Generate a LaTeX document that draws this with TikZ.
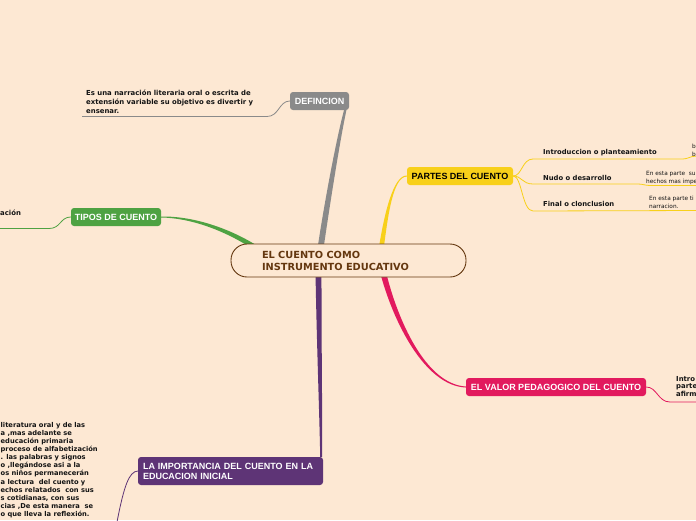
\documentclass[tikz,border=0pt]{standalone}
\usepackage{fontspec}
\setmainfont{DejaVu Sans}
\newfontfamily\hfont{Liberation Sans}
\usetikzlibrary{calc,backgrounds}
\definecolor{bg}{RGB}{253,232,211}
\definecolor{cgray}{RGB}{138,138,138}
\definecolor{cgreen}{RGB}{78,162,66}
\definecolor{cyellow}{RGB}{248,208,26}
\definecolor{ccrim}{RGB}{226,26,94}
\definecolor{cpurp}{RGB}{94,52,118}
\definecolor{cbrown}{RGB}{100,55,15}
\definecolor{ctext}{RGB}{20,20,20}
\begin{document}
\begin{tikzpicture}[x=1pt,y=-1pt,
  topic/.style={rounded corners=3pt, inner sep=0pt, minimum height=18pt,
    font=\hfont\bfseries\fontsize{9}{10}\selectfont, text=white},
  central/.style={draw=cbrown, line width=0.9pt, fill=bg, rounded corners=16pt,
    minimum width=235pt, minimum height=33pt, text width=173pt, inner xsep=31pt,
    inner ysep=0pt, align=left, font=\bfseries\fontsize{9.8}{12}\selectfont, text=cbrown},
  desc/.style={anchor=north west, inner sep=0pt, align=left,
    font=\bfseries\fontsize{6.9}{9}\selectfont, text=ctext},
  sub/.style={anchor=base west, inner sep=0pt, font=\bfseries\fontsize{6.8}{8}\selectfont, text=ctext},
  small/.style={anchor=north west, inner sep=0pt, align=left,
    font=\fontsize{5.8}{8}\selectfont, text=ctext},
  thin/.style={line width=0.8pt}]
\useasboundingbox (0,0) rectangle (696,520);
\clip (0,0) rectangle (696,520);

% nodes
\node[central] (c) at (348.5,260.5) {EL CUENTO COMO\\INSTRUMENTO EDUCATIVO};
\node[topic, fill=cgray, minimum width=59pt] (def) at (319.5,101) {DEFINCION};
\node[topic, fill=cgreen, minimum width=90pt] (tip) at (116,217) {TIPOS DE CUENTO};
\node[topic, fill=cyellow, minimum width=106pt, text=black] (par) at (460,176) {PARTES DEL CUENTO};
\node[topic, fill=ccrim, minimum width=180pt] (val) at (556,387) {EL VALOR PEDAGOGICO DEL CUENTO};
\node[topic, fill=cpurp, minimum width=185pt, minimum height=28pt, text width=175pt,
  inner xsep=5pt, align=left] (imp) at (230.5,471) {LA IMPORTANCIA DEL CUENTO EN LA\\EDUCACION INICIAL};

% texts
\node[desc] (dd) at (86,90) {Es una narración literaria oral o escrita de\\extensión variable su objetivo es divertir y\\ensenar.};
\node[desc] (td) at (0,209.8) {ación};
\node[sub] (s1) at (543,154) {Introduccion o planteamiento};
\node[sub] (s2) at (543,180) {Nudo o desarrollo};
\node[sub] (s3) at (543,206) {Final o clonclusion};
\node[small] (rb) at (692,143.6) {b\\b};
\node[small] (rn) at (646,170.6) {En esta parte~ su\\hechos mas impe};
\node[small] (rf) at (649,195.6) {En esta parte ti\\narracion.};
\node[desc, font=\bfseries\fontsize{6.9}{7.9}\selectfont] (vd) at (676,375.8) {Intro\\parte\\afirm};
\node[desc, font=\bfseries\fontsize{6.7}{8.05}\selectfont] (pd) at (0.5,422.4) {literatura oral y de las\\a ,mas adelante se\\educación primaria\\proceso de alfabetización\\. las palabras y signos\\o ,llegándose asi a la\\os niños permanecerán\\a lectura~ del cuento y\\echos relatados~ con sus\\s cotidianas, con sus\\cias ,De esta manera~ se\\o que lleva la reflexión.};

% free ends
\coordinate (gS) at (320,252);
\coordinate (gE) at ($(def.south east)+(-4,0)$);
\coordinate (nS) at (256,248);
\coordinate (yS) at (381,250);
\coordinate (rS) at (383,272);
\coordinate (pS) at (318.5,272);
\coordinate (pE) at ($(imp.north east)+(-2,0)$);
\coordinate (dE) at (82,116.5);
\coordinate (tE) at (0,228.5);
\coordinate (vE) at (697,402);
\coordinate (mE) at (117,522);
\coordinate (i1) at (697,156);
\coordinate (i2) at (697,185.5);
\coordinate (i3) at (697,210.5);

\begin{scope}[on background layer]
\fill[bg] (0,0) rectangle (696,520);
% gray
\fill[cgray] ($(gS)+(-3,0)$) .. controls (323,210) and (336,140) .. ($(gE)+(-1.2,0)$)
  -- ($(gE)+(1.2,0)$) .. controls (340,140) and (329,210) .. ($(gS)+(3,0)$) -- cycle;
% green
\fill[cgreen] ($(nS)+(1.3,-2.2)$) .. controls (225.7,226.1) and (190,216) .. ($(tip.east)+(0,-0.5)$)
  -- ($(tip.east)+(0,0.5)$) .. controls (190,218) and (224.3,229.9) .. ($(nS)+(-1.3,2.2)$) -- cycle;
% yellow
\fill[cyellow] ($(yS)+(-2.5,0)$) .. controls (384,215) and (393,175.2) .. ($(par.west)+(0,-0.5)$)
  -- ($(par.west)+(0,0.5)$) .. controls (393,176.8) and (388,215) .. ($(yS)+(2.5,0)$) -- cycle;
% crimson
\fill[ccrim] ($(rS)+(3,0)$) .. controls (397.4,319.4) and (425.5,384.1) .. ($(val.west)+(0,-0.5)$)
  -- ($(val.west)+(0,0.5)$) .. controls (424.5,385.9) and (392.6,320.6) .. ($(rS)+(-3,0)$) -- cycle;
% purple
\fill[cpurp] ($(pS)+(-3,0)$) .. controls (316.6,340) and (319.6,420) .. ($(pE)+(-1,0)$)
  -- ($(pE)+(1,0)$) .. controls (322.4,420) and (321.4,340) .. ($(pS)+(3,0)$) -- cycle;
% thin branches
\draw[cgray, thin] (def.west) .. controls (279,101) and (279,116.5) .. (267,116.5) -- (dE);
\draw[cgreen, thin] (tip.west) .. controls (60,217) and (61,228.5) .. (49,228.5) -- (tE);
\draw[cyellow, thin] (par.east) .. controls (522,176) and (522,159) .. (533,159) -- (683,159)
  .. controls (688,159) and (690,156) .. (i1);
\draw[cyellow, thin] (par.east) .. controls (522,176) and (522,184) .. (533,184) -- (638,184)
  .. controls (643,184) and (645,185.5) .. (650,185.5) -- (i2);
\draw[cyellow, thin] (par.east) .. controls (522,176) and (522,211) .. (533,211) -- (i3);
\draw[ccrim, thin] (val.east) .. controls (657,387) and (658,402) .. (670,402) -- (vE);
\draw[cpurp, thin] (imp.west) .. controls (129,471.5) and (124,486) .. (mE);
\end{scope}
\end{tikzpicture}
\end{document}
